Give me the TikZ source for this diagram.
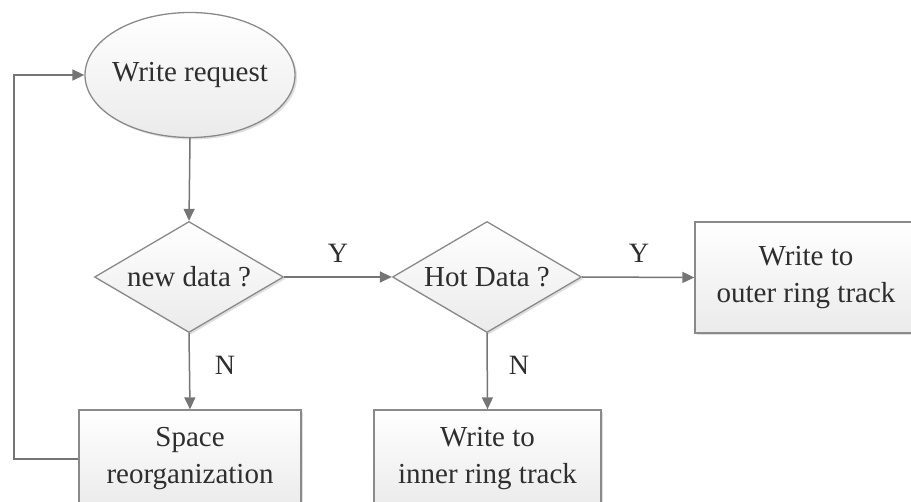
\documentclass[tikz,border=0pt]{standalone}
\usepackage{fontspec}
\setmainfont{Liberation Serif}
\usetikzlibrary{shapes.geometric,arrows.meta,shadows}
\definecolor{edgegray}{HTML}{8A8A8A}
\definecolor{linegray}{HTML}{757575}
\definecolor{txtgray}{HTML}{2E2E2E}
\tikzset{
  box/.style={draw=edgegray, line width=1.3pt, top color=white, bottom color=gray!16,
    drop shadow={shadow xshift=2pt, shadow yshift=-2pt, opacity=0.25, fill=gray},
    text=txtgray, font=\fontsize{29}{37}\selectfont, align=center, inner sep=0pt},
  procbox/.style={box, rectangle, minimum width=222pt, minimum height=98pt},
  decbox/.style={box, diamond, shape aspect=1.7, minimum width=189pt, minimum height=111pt},
  termbox/.style={box, ellipse, inner xsep=-6pt, minimum width=210pt, minimum height=125pt},
  arr/.style={draw=linegray, line width=1.5pt, -{Triangle[length=12pt,width=11pt]}},
  lbl/.style={text=txtgray, font=\fontsize{28}{34}\selectfont, inner sep=0pt}
}
\begin{document}
\begin{tikzpicture}[x=1pt,y=-1pt]
\useasboundingbox (0,0) rectangle (911,502);
\clip (0,0) rectangle (911,502);
\node[termbox] (wr) at (190,75) {Write request};
\node[decbox] (nd) at (189,277) {new data ?};
\node[decbox] (hd) at (487,277) {Hot Data ?};
\node[procbox, minimum height=111pt] (out) at (806,277.5) {Write to\\outer ring track};
\node[procbox] (sr) at (190,459) {Space\\reorganization};
\node[procbox, minimum width=227pt] (inn) at (487.5,459) {Write to\\inner ring track};
\coordinate (lp) at (14,75);
\draw[arr] (wr.south) -- (nd.north);
\draw[arr] (nd.east) -- (hd.west);
\draw[arr] (hd.east) -- (out.west);
\draw[arr] (nd.south) -- (sr.north);
\draw[arr] (hd.south) -- (inn.north);
\draw[arr] (sr.west) -- (sr.west -| lp) |- (wr.west);
\node[lbl] (y1) at (338,253) {Y};
\node[lbl] (y2) at (639,253) {Y};
\node[lbl] (n1) at (225,365) {N};
\node[lbl] (n2) at (519,365) {N};
\end{tikzpicture}
\end{document}
